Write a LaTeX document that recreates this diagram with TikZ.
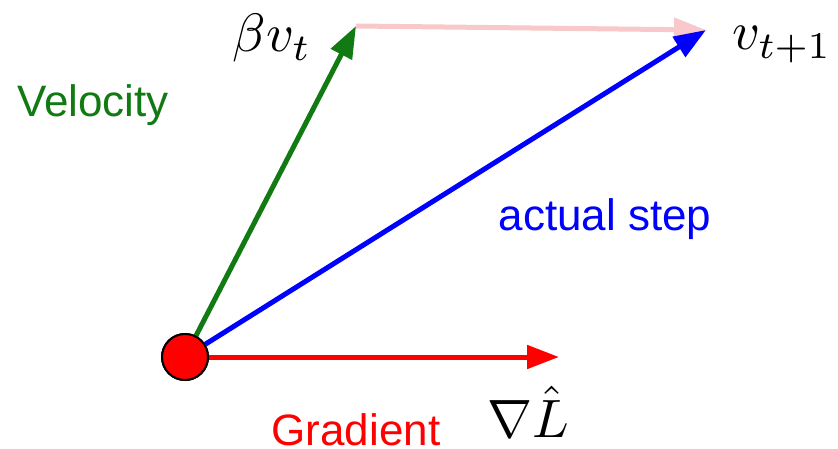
\documentclass[tikz,border=0pt]{standalone}
\usepackage{fontspec}
\setmainfont{Liberation Sans}
\usetikzlibrary{positioning, arrows.meta}
\definecolor{velgreen}{RGB}{18,122,18}
\definecolor{steppink}{RGB}{248,200,202}

\begin{document}
\begin{tikzpicture}[
  x=1pt, y=-1pt,
  dot/.style  ={circle, draw=black, line width=2pt, fill=red, minimum size=46pt, inner sep=0pt},
  vec/.style  ={-{Triangle[length=32pt, width=23pt]}, line width=5pt, draw=#1},
  word/.style ={font=\fontsize{44}{50}\selectfont, text=#1, inner sep=0pt},
  sym/.style  ={scale=5.4, inner sep=0pt},
]
\useasboundingbox (0,0) rectangle (838,449);

% ---------- origin and tips ----------
\node[dot] (o) at (185,357) {};
\coordinate (bv)   at (356,26);
\coordinate (vnew) at (706,30);
\coordinate (grad) at (559,357);

% ---------- vectors ----------
\draw[vec=steppink] (bv) -- (vnew);
\draw[vec=blue] (o) -- (vnew);
\draw[vec=velgreen] (o) -- (bv);
\draw[vec=red] (o) -- (grad);
\node[dot] at (o) {};

% ---------- labels ----------
\node[sym, anchor=base]  (lbv)   at (272,52)  {$\beta v_t$};
\node[sym, anchor=base]  (lvnew) at (782,50)  {$v_{t+1}$};
\node[sym, anchor=base]  (lgrad) at (528,437) {$\nabla\hat{L}$};
\node[word=velgreen, anchor=base] (lvel)  at (93,117)  {Velocity};
\node[word=blue, anchor=base]     (lstep) at (605,230) {actual step};
\node[word=red, anchor=base]      (lgr)   at (356,445) {Gradient};

\end{tikzpicture}
\end{document}
